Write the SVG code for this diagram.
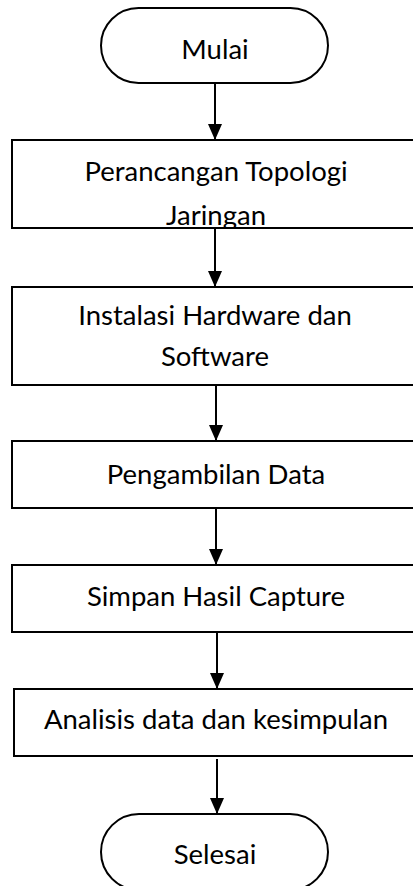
<svg xmlns="http://www.w3.org/2000/svg" width="413" height="886" viewBox="0 0 413 886">
  <style>
    .shape { fill: #ffffff; stroke: #000000; stroke-width: 2; }
    .label { font-family: Lato, "Open Sans", sans-serif; font-size: 27.5px; fill: #000000; text-anchor: middle; }
    .conn { stroke: #000000; stroke-width: 2; fill: none; }
  </style>
  <defs>
    <marker id="arrow" viewBox="0 0 16 14" refX="16" refY="7" markerWidth="16" markerHeight="14" markerUnits="userSpaceOnUse" orient="auto">
      <path d="M0,0 L16,7 L0,14 Z" fill="#000000"/>
    </marker>
    <clipPath id="clip1">
      <rect x="12" y="141" width="410" height="86"/>
    </clipPath>
  </defs>
  <rect width="413" height="886" fill="#ffffff"/>

  <g id="connectors">
    <line class="conn" x1="215" y1="84" x2="215" y2="140" marker-end="url(#arrow)"/>
    <line class="conn" x1="215" y1="229" x2="215" y2="287" marker-end="url(#arrow)"/>
    <line class="conn" x1="216" y1="386" x2="216" y2="441" marker-end="url(#arrow)"/>
    <line class="conn" x1="216" y1="509" x2="216" y2="565" marker-end="url(#arrow)"/>
    <line class="conn" x1="217" y1="633" x2="217" y2="689" marker-end="url(#arrow)"/>
    <line class="conn" x1="217" y1="759" x2="217" y2="814" marker-end="url(#arrow)"/>
  </g>

  <g id="start">
    <rect class="shape" x="101" y="8" width="227" height="75" rx="37.5" ry="37.5"/>
    <text class="label" x="215" y="59">Mulai</text>
  </g>

  <g id="step1">
    <rect class="shape" x="12" y="140" width="412" height="88"/>
    <g clip-path="url(#clip1)">
      <text class="label" x="216" y="181">Perancangan Topologi</text>
      <text class="label" x="216" y="225">Jaringan</text>
    </g>
  </g>

  <g id="step2">
    <rect class="shape" x="12" y="287" width="412" height="98"/>
    <text class="label" x="215" y="325">Instalasi Hardware dan</text>
    <text class="label" x="215" y="366">Software</text>
  </g>

  <g id="step3">
    <rect class="shape" x="12" y="441" width="412" height="67"/>
    <text class="label" x="216" y="484">Pengambilan Data</text>
  </g>

  <g id="step4">
    <rect class="shape" x="12" y="565" width="412" height="67"/>
    <text class="label" x="216" y="606">Simpan Hasil Capture</text>
  </g>

  <g id="step5">
    <rect class="shape" x="14" y="689" width="410" height="67"/>
    <text class="label" x="216" y="729">Analisis data dan kesimpulan</text>
  </g>

  <g id="end">
    <rect class="shape" x="101" y="814" width="227" height="76" rx="38" ry="38"/>
    <text class="label" x="215" y="864">Selesai</text>
  </g>
</svg>
